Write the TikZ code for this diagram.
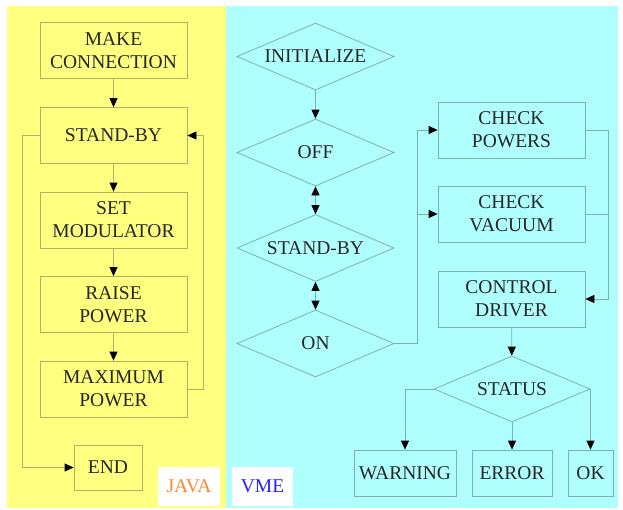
\documentclass[tikz,border=0pt]{standalone}
\usepackage{fontspec}
\setmainfont{Liberation Serif}
\usetikzlibrary{shapes.geometric,arrows.meta}
\definecolor{javabg}{HTML}{FFFF80}
\definecolor{vmebg}{HTML}{B0FFFF}
\definecolor{javaline}{HTML}{B0B068}
\definecolor{vmeline}{HTML}{7FB0B0}
\definecolor{javatxt}{HTML}{FF8833}
\definecolor{vmetxt}{HTML}{2222FF}
\begin{document}
\begin{tikzpicture}[x=1pt,y=-1pt,
  txt/.style={font=\fontsize{19.5}{23}\selectfont, align=center, text=black!85},
  jbox/.style={txt, draw=javaline, line width=0.8pt, rectangle, inner sep=0pt, minimum width=147pt, minimum height=56pt},
  vbox/.style={txt, draw=vmeline, line width=0.8pt, rectangle, inner sep=0pt, minimum width=147pt, minimum height=56pt},
  vdia/.style={txt, draw=vmeline, line width=0.8pt, diamond, inner sep=0pt, shape aspect=2.34, minimum width=157pt, minimum height=67pt},
  lab/.style={fill=white, inner sep=0pt, minimum width=62pt, minimum height=39pt, font=\fontsize{19.5}{23}\selectfont},
  jarr/.style={draw=javaline, line width=0.8pt, -{Triangle[length=9pt,width=8pt,color=black]}},
  varr/.style={draw=vmeline, line width=0.8pt, -{Triangle[length=9pt,width=8pt,color=black]}},
  vdarr/.style={draw=vmeline, line width=0.8pt, {Triangle[length=9pt,width=8pt,color=black]}-{Triangle[length=9pt,width=8pt,color=black]}},
  vline/.style={draw=vmeline, line width=0.8pt}
]
\useasboundingbox (0,0) rectangle (623,509);
\fill[white] (0,0) rectangle (623,509);
\fill[javabg] (7,6) rectangle (226,508);
\fill[vmebg] (226,6) rectangle (618,508);

% JAVA side
\node[jbox] (make) at (113.5,50.5) {MAKE\\CONNECTION};
\node[jbox] (standby) at (113.5,135.5) {STAND-BY};
\node[jbox] (setmod) at (113.5,220) {SET\\MODULATOR};
\node[jbox] (raise) at (113.5,304.5) {RAISE\\POWER};
\node[jbox] (maxp) at (113.5,389) {MAXIMUM\\POWER};
\node[jbox, minimum width=68pt, minimum height=45pt] (end) at (108,467.5) {END};
\node[lab, text=javatxt] (java) at (189,486.5) {JAVA};

\draw[jarr] (make) -- (standby);
\draw[jarr] (standby) -- (setmod);
\draw[jarr] (setmod) -- (raise);
\draw[jarr] (raise) -- (maxp);
\draw[jarr] (standby.west) -- ++(-17,0) |- (end.west);
\draw[jarr] (maxp.east) -- ++(16,0) |- (standby.east);

% VME side
\node[vdia] (init) at (315.5,56.5) {INITIALIZE};
\node[vdia] (off) at (315.5,152.5) {OFF};
\node[vdia] (sb) at (315.5,248) {STAND-BY};
\node[vdia] (on) at (315.5,343.5) {ON};
\node[vbox] (cp) at (511.5,130) {CHECK\\POWERS};
\node[vbox] (cv) at (511.5,214) {CHECK\\VACUUM};
\node[vbox] (cd) at (511.5,299) {CONTROL\\DRIVER};
\node[vdia, minimum width=156pt, minimum height=66pt] (status) at (512,389) {STATUS};
\node[vbox, minimum width=102pt, minimum height=46pt] (warn) at (405,473) {WARNING};
\node[vbox, minimum width=80pt, minimum height=46pt] (err) at (512,473) {ERROR};
\node[vbox, minimum width=45pt, minimum height=46pt] (ok) at (590.5,473) {OK};
\node[lab, text=vmetxt, minimum width=61pt] (vme) at (262.5,486.5) {VME};

\coordinate (onj) at (417,343.5);
\coordinate (cdj) at (608,130);

\draw[varr] (init) -- (off);
\draw[vdarr] (off) -- (sb);
\draw[vdarr] (sb) -- (on);
\draw[varr] (on.east) -- (onj) |- (cp.west);
\draw[varr] (onj) |- (cv.west);
\draw[varr] (cp.east) -- (cdj) |- (cd.east);
\draw[vline] (cv.east) -- (cv.east -| cdj);
\draw[varr] (cd) -- (status);
\draw[varr] (status.west) -| (warn.north);
\draw[varr] (status.south) -- (err.north);
\draw[varr] (status.east) -| (ok.north);
\end{tikzpicture}
\end{document}
